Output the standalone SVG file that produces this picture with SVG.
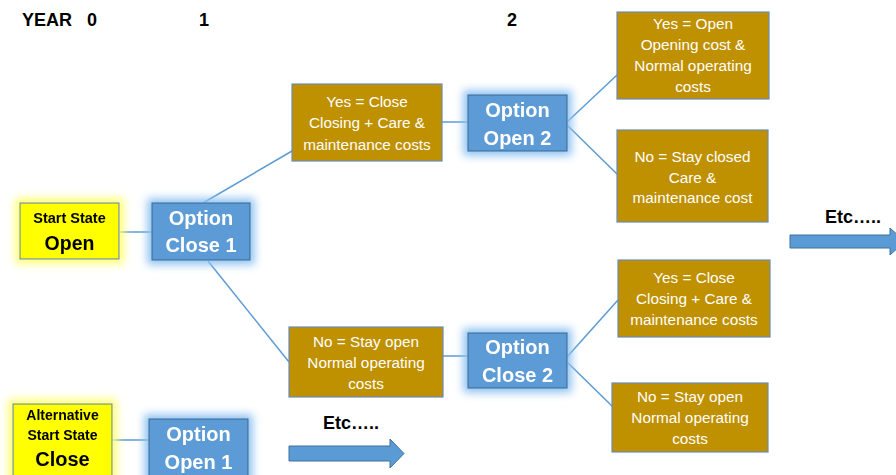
<svg xmlns="http://www.w3.org/2000/svg" width="896" height="475" viewBox="0 0 896 475">
<defs>
<filter id="glowB" x="-30%" y="-30%" width="160%" height="160%">
<feMorphology in="SourceAlpha" operator="dilate" radius="4" result="d"/>
<feGaussianBlur in="d" stdDeviation="4.5" result="b"/>
<feFlood flood-color="#8EC2F2"/>
<feComposite in2="b" operator="in" result="g"/>
<feMerge><feMergeNode in="g"/><feMergeNode in="SourceGraphic"/></feMerge>
</filter>
<filter id="glowY" x="-30%" y="-30%" width="160%" height="160%">
<feMorphology in="SourceAlpha" operator="dilate" radius="4" result="d"/>
<feGaussianBlur in="d" stdDeviation="4.5" result="b"/>
<feFlood flood-color="#FFFF70"/>
<feComposite in2="b" operator="in" result="g"/>
<feMerge><feMergeNode in="g"/><feMergeNode in="SourceGraphic"/></feMerge>
</filter>
</defs>
<style>
.yr{font-family:"Liberation Sans",Arial,sans-serif;font-weight:bold;font-size:18px;fill:#000;}
.start{fill:#FFFF00;stroke:#6A8CAA;stroke-width:1.2;}
.opt{fill:#5B9BD5;stroke:#41719C;stroke-width:1.2;}
.gold{fill:#BF9000;stroke:#6A8CB5;stroke-width:1.2;}
.gt{font-family:"Liberation Sans",Arial,sans-serif;font-size:15.3px;fill:#fff;text-anchor:middle;}
.ot{font-family:"Liberation Sans",Arial,sans-serif;font-size:20px;font-weight:bold;fill:#fff;text-anchor:middle;}
.st{font-family:"Liberation Sans",Arial,sans-serif;font-weight:bold;fill:#000;text-anchor:middle;}
.ln{stroke:#5B9BD5;stroke-width:1.5;fill:none;}
.arr{fill:#5B9BD5;stroke:#41719C;stroke-width:1;}
.etc{font-family:"Liberation Sans",Arial,sans-serif;font-weight:bold;font-size:18px;fill:#000;}
</style>
<rect width="896" height="475" fill="#fff"/>
<g id="years">
<text class="yr" x="22" y="26">YEAR</text>
<text class="yr" x="87" y="26">0</text>
<text class="yr" x="199" y="26">1</text>
<text class="yr" x="507" y="26">2</text>
</g>
<g id="connectors">
<line class="ln" x1="120" y1="232" x2="152" y2="232"/>
<line class="ln" x1="203" y1="203" x2="292" y2="151"/>
<line class="ln" x1="208" y1="261" x2="289" y2="362"/>
<line class="ln" x1="442" y1="122" x2="468" y2="122"/>
<line class="ln" x1="567" y1="122" x2="617" y2="75"/>
<line class="ln" x1="567" y1="125" x2="617" y2="174"/>
<line class="ln" x1="443" y1="356" x2="468" y2="356"/>
<line class="ln" x1="567" y1="357" x2="618" y2="300"/>
<line class="ln" x1="567" y1="362" x2="613" y2="407"/>
<line class="ln" x1="112" y1="440" x2="149" y2="440"/>
</g>
<g id="start-open" filter="url(#glowY)">
<rect class="start" x="20" y="203" width="99" height="56"/>
<text class="st" x="69.5" y="223" font-size="14.5">Start State</text>
<text class="st" x="69.5" y="250" font-size="19.5">Open</text>
</g>
<g id="option-close-1" filter="url(#glowB)">
<rect class="opt" x="152" y="203" width="98" height="57"/>
<text class="ot" x="201" y="225">Option</text>
<text class="ot" x="201" y="252">Close 1</text>
</g>
<g id="yes-close-1">
<rect class="gold" x="292" y="84" width="150" height="77"/>
<text class="gt" x="367" y="107">Yes = Close</text>
<text class="gt" x="367" y="128">Closing + Care &amp;</text>
<text class="gt" x="367" y="150">maintenance costs</text>
</g>
<g id="option-open-2" filter="url(#glowB)">
<rect class="opt" x="468" y="95" width="99" height="56"/>
<text class="ot" x="517.5" y="117">Option</text>
<text class="ot" x="517.5" y="145">Open 2</text>
</g>
<g id="yes-open">
<rect class="gold" x="617" y="12" width="152" height="87"/>
<text class="gt" x="693" y="29">Yes = Open</text>
<text class="gt" x="693" y="50">Opening cost &amp;</text>
<text class="gt" x="693" y="71">Normal operating</text>
<text class="gt" x="693" y="92">costs</text>
</g>
<g id="no-stay-closed">
<rect class="gold" x="617" y="130" width="151" height="92"/>
<text class="gt" x="692.5" y="162">No = Stay closed</text>
<text class="gt" x="692.5" y="183">Care &amp;</text>
<text class="gt" x="692.5" y="203">maintenance cost</text>
</g>
<g id="no-stay-open-1">
<rect class="gold" x="289" y="327" width="154" height="70"/>
<text class="gt" x="366" y="347">No = Stay open</text>
<text class="gt" x="366" y="368">Normal operating</text>
<text class="gt" x="366" y="389">costs</text>
</g>
<g id="option-close-2" filter="url(#glowB)">
<rect class="opt" x="468" y="333" width="99" height="55"/>
<text class="ot" x="517.5" y="354">Option</text>
<text class="ot" x="517.5" y="382">Close 2</text>
</g>
<g id="yes-close-2">
<rect class="gold" x="618" y="260" width="152" height="77"/>
<text class="gt" x="694" y="283">Yes = Close</text>
<text class="gt" x="694" y="304">Closing + Care &amp;</text>
<text class="gt" x="694" y="325">maintenance costs</text>
</g>
<g id="no-stay-open-2">
<rect class="gold" x="612" y="383" width="156" height="69"/>
<text class="gt" x="690" y="402">No = Stay open</text>
<text class="gt" x="690" y="423">Normal operating</text>
<text class="gt" x="690" y="444">costs</text>
</g>
<g id="alt-start-close" filter="url(#glowY)">
<rect class="start" x="13" y="404" width="99" height="80"/>
<text class="st" x="62.5" y="420" font-size="14">Alternative</text>
<text class="st" x="62.5" y="440" font-size="14">Start State</text>
<text class="st" x="62.5" y="466" font-size="20">Close</text>
</g>
<g id="option-open-1" filter="url(#glowB)">
<rect class="opt" x="149" y="419" width="99" height="70"/>
<text class="ot" x="198.5" y="441">Option</text>
<text class="ot" x="198.5" y="469">Open 1</text>
</g>
<g id="etc-right">
<text class="etc" x="825" y="223">Etc…..</text>
<polygon class="arr" points="790,235 890,235 890,228 905,241.5 890,255 890,248 790,248"/>
</g>
<g id="etc-bottom">
<text class="etc" x="323" y="429">Etc…..</text>
<polygon class="arr" points="289,446 390,446 390,439 404,453.5 390,468 390,461 289,461"/>
</g>
</svg>
